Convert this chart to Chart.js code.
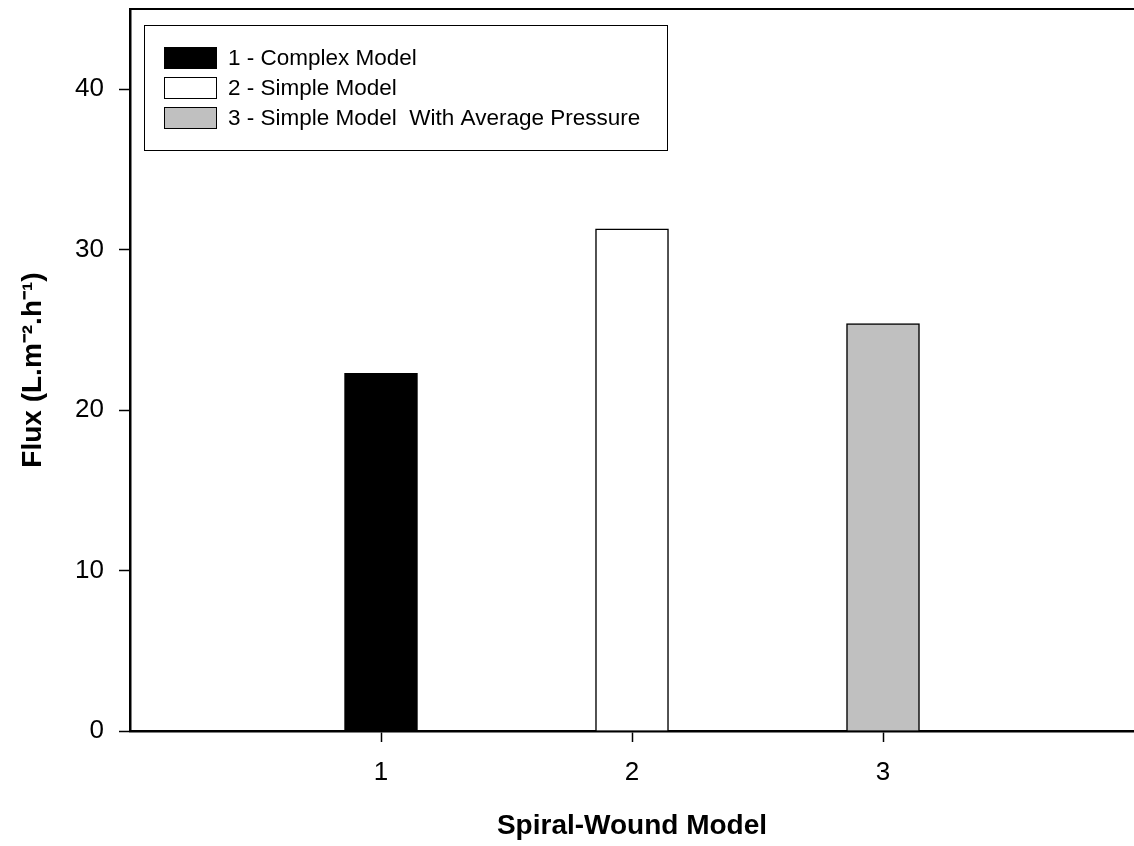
<!DOCTYPE html>
<html><head><meta charset="utf-8">
<script src="https://cdn.jsdelivr.net/npm/chart.js@4/dist/chart.umd.min.js"></script>
<style>html,body{margin:0;padding:0;background:#fff;overflow:hidden}</style>
</head><body>
<canvas id="c" width="1134" height="846"></canvas>
<script>
// ---- data ----
const categories = [1, 2, 3];
const seriesLabels = ['1 - Complex Model', '2 - Simple Model', '3 - Simple Model  With Average Pressure'];
const fluxValues = [22.3, 31.3, 25.4];
const yTickValues = [0, 10, 20, 30, 40];
const xTickValues = [1, 2, 3];
const xTitle = 'Spiral-Wound Model';
const yTitle = 'Flux (L.m\u207B\u00B2.h\u207B\u00B9)';
const fillColors = ['#000000', '#ffffff', '#c0c0c0'];

const FONT = "'Liberation Sans', Arial, sans-serif";

const datasets = categories.map((c, i) => ({
  label: seriesLabels[i],
  data: [{ x: c, y: fluxValues[i] }],
  backgroundColor: fillColors[i],
  borderColor: '#000000',
  borderWidth: 1.5,
  borderSkipped: 'bottom',
  barThickness: 73,
  grouped: false
}));

const frameTop = {
  id: 'frameTop',
  afterDraw(chart) {
    const { ctx, chartArea: a } = chart;
    ctx.save();
    ctx.strokeStyle = '#000';
    ctx.lineWidth = 2;
    ctx.beginPath();
    ctx.moveTo(a.left, a.top);
    ctx.lineTo(a.right, a.top);
    ctx.stroke();
    ctx.restore();
  }
};

const boxLegend = {
  id: 'boxLegend',
  afterDraw(chart) {
    const { ctx, chartArea: a } = chart;
    const x0 = Math.round(a.left + 14) + 0.5, y0 = Math.round(a.top + 16) + 0.5;
    ctx.save();
    ctx.fillStyle = '#fff';
    ctx.fillRect(x0, y0, 523, 125);
    ctx.strokeStyle = '#000';
    ctx.lineWidth = 1;
    ctx.strokeRect(x0, y0, 523, 125);
    ctx.font = '22.5px ' + FONT;
    ctx.textBaseline = 'middle';
    ctx.textAlign = 'left';
    chart.data.datasets.forEach((ds, i) => {
      const sx = Math.round(a.left + 34) + 0.5;
      const sy = Math.round(a.top + 38 + i * 30) + 0.5;
      ctx.fillStyle = ds.backgroundColor;
      ctx.fillRect(sx, sy, 52, 21);
      ctx.strokeStyle = '#000';
      ctx.strokeRect(sx, sy, 52, 21);
      ctx.fillStyle = '#000';
      ctx.fillText(ds.label, a.left + 98, sy + 11);
    });
    ctx.restore();
  }
};

new Chart(document.getElementById('c'), {
  type: 'bar',
  data: { datasets },
  options: {
    responsive: false,
    animation: false,
    layout: { padding: { top: 9, right: 0, left: 0, bottom: 0 } },
    plugins: { legend: { display: false }, tooltip: { enabled: false } },
    scales: {
      x: {
        type: 'linear',
        min: 0, max: 4,
        offset: false,
        grid: { display: true, offset: false, drawOnChartArea: false, drawTicks: true, tickLength: 11, tickWidth: 1.5, tickColor: '#000' },
        border: { display: true, width: 2.5, color: '#000' },
        afterBuildTicks: s => { s.ticks = xTickValues.map(v => ({ value: v })); },
        afterFit: s => { s.height = 115; s.paddingLeft = 0; s.paddingRight = 0; },
        ticks: { color: '#000', padding: 15, maxRotation: 0, font: { family: FONT, size: 26 }, callback: v => String(v) },
        title: { display: true, text: xTitle, color: '#000', padding: { top: 0, bottom: 3 }, font: { family: FONT, size: 28, weight: 'bold' } }
      },
      y: {
        min: 0, max: 45,
        grid: { display: true, drawOnChartArea: false, drawTicks: true, tickLength: 11, tickWidth: 1.5, tickColor: '#000' },
        border: { display: true, width: 2.5, color: '#000' },
        afterBuildTicks: s => { s.ticks = yTickValues.map(v => ({ value: v })); },
        afterFit: s => { s.width = 130; s.paddingTop = 0; s.paddingBottom = 0; },
        ticks: { color: '#000', padding: 15, font: { family: FONT, size: 26 }, callback: v => String(v) },
        title: { display: true, text: yTitle, color: '#000', padding: { top: 16, bottom: 0 }, font: { family: FONT, size: 28, weight: 'bold' } }
      }
    }
  },
  plugins: [frameTop, boxLegend]
});
</script>
</body></html>
